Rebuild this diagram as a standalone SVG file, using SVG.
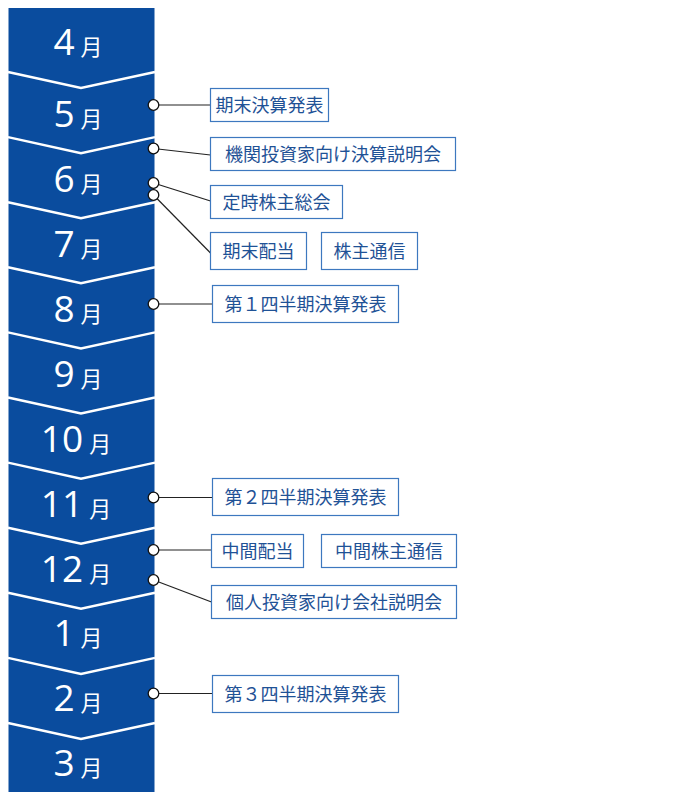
<svg xmlns="http://www.w3.org/2000/svg" width="691" height="797" viewBox="0 0 691 797">
<style>
.col{fill:#0a4c9e}
.sep{fill:none;stroke:#fff;stroke-width:2.5}
.mon{font-family:"Open Sans","Noto Sans","Liberation Sans",sans-serif;font-weight:400;font-size:37px;fill:#fff;text-anchor:middle}
.tsu{font-family:"Noto Sans CJK JP",sans-serif;font-weight:400;font-size:22px}
.box{fill:#fff;stroke:#3d78bf;stroke-width:1.2}
.lbl{font-family:"Noto Sans CJK JP",sans-serif;font-size:18px;fill:#1f5296;text-anchor:middle}
.dot{fill:#fff;stroke:#111;stroke-width:1.3}
.ln{stroke:#222;stroke-width:1.2;fill:none}
</style>
<g id="column">
<rect class="col" x="8.5" y="8" width="146" height="784"/>
<polyline class="sep" points="8,72 81,88 155,72"/>
<polyline class="sep" points="8,137.1 81,153.1 155,137.1"/>
<polyline class="sep" points="8,202.2 81,218.2 155,202.2"/>
<polyline class="sep" points="8,267.3 81,283.3 155,267.3"/>
<polyline class="sep" points="8,332.4 81,348.4 155,332.4"/>
<polyline class="sep" points="8,397.5 81,413.5 155,397.5"/>
<polyline class="sep" points="8,462.6 81,478.6 155,462.6"/>
<polyline class="sep" points="8,527.7 81,543.7 155,527.7"/>
<polyline class="sep" points="8,592.8 81,608.8 155,592.8"/>
<polyline class="sep" points="8,657.9 81,673.9 155,657.9"/>
<polyline class="sep" points="8,723 81,739 155,723"/>
<text class="mon" x="78" y="55">4<tspan class="tsu" dx="6">月</tspan></text>
<text class="mon" x="78" y="127">5<tspan class="tsu" dx="6">月</tspan></text>
<text class="mon" x="78" y="192">6<tspan class="tsu" dx="6">月</tspan></text>
<text class="mon" x="78" y="257">7<tspan class="tsu" dx="6">月</tspan></text>
<text class="mon" x="78" y="322">8<tspan class="tsu" dx="6">月</tspan></text>
<text class="mon" x="78" y="387">9<tspan class="tsu" dx="6">月</tspan></text>
<text class="mon" x="76" y="452">10<tspan class="tsu" dx="6">月</tspan></text>
<text class="mon" x="76" y="517">11<tspan class="tsu" dx="6">月</tspan></text>
<text class="mon" x="76" y="582">12<tspan class="tsu" dx="6">月</tspan></text>
<text class="mon" x="78" y="646">1<tspan class="tsu" dx="6">月</tspan></text>
<text class="mon" x="78" y="711">2<tspan class="tsu" dx="6">月</tspan></text>
<text class="mon" x="78" y="776">3<tspan class="tsu" dx="6">月</tspan></text>
</g>
<g id="connectors">
<line class="ln" x1="153.5" y1="105" x2="210.5" y2="105"/>
<line class="ln" x1="153.5" y1="148.5" x2="210.5" y2="155"/>
<line class="ln" x1="153.5" y1="183" x2="210.5" y2="201"/>
<line class="ln" x1="153.5" y1="195" x2="210.5" y2="253"/>
<line class="ln" x1="153.5" y1="304" x2="212.5" y2="304"/>
<line class="ln" x1="153.5" y1="497.5" x2="212.5" y2="497.5"/>
<line class="ln" x1="153.5" y1="550" x2="211.5" y2="550"/>
<line class="ln" x1="153.5" y1="580" x2="211.5" y2="602"/>
<line class="ln" x1="153.5" y1="693.5" x2="212.5" y2="693.5"/>
<circle class="dot" cx="153.5" cy="105" r="5.3"/>
<circle class="dot" cx="153.5" cy="148.5" r="5.3"/>
<circle class="dot" cx="153.5" cy="183" r="5.3"/>
<circle class="dot" cx="153.5" cy="195" r="5.3"/>
<circle class="dot" cx="153.5" cy="304" r="5.3"/>
<circle class="dot" cx="153.5" cy="497.5" r="5.3"/>
<circle class="dot" cx="153.5" cy="550" r="5.3"/>
<circle class="dot" cx="153.5" cy="580" r="5.3"/>
<circle class="dot" cx="153.5" cy="693.5" r="5.3"/>
</g>
<g id="n1"><rect class="box" x="210.5" y="88.5" width="118" height="33"/><text class="lbl" x="269.5" y="111.5">期末決算発表</text></g>
<g id="n2"><rect class="box" x="210.5" y="137.5" width="245" height="33"/><text class="lbl" x="333" y="160.5">機関投資家向け決算説明会</text></g>
<g id="n3"><rect class="box" x="210.5" y="185.5" width="132" height="33"/><text class="lbl" x="276.5" y="208.5">定時株主総会</text></g>
<g id="n4"><rect class="box" x="210.5" y="232.5" width="96" height="37"/><text class="lbl" x="258.5" y="257.5">期末配当</text></g>
<g id="n5"><rect class="box" x="321.5" y="232.5" width="96" height="37"/><text class="lbl" x="369.5" y="257.5">株主通信</text></g>
<g id="n6"><rect class="box" x="212.5" y="285.5" width="186" height="37"/><text class="lbl" x="305.5" y="310.5">第１四半期決算発表</text></g>
<g id="n7"><rect class="box" x="212.5" y="478.5" width="186" height="37"/><text class="lbl" x="305.5" y="503.5">第２四半期決算発表</text></g>
<g id="n8"><rect class="box" x="211.5" y="534.5" width="92" height="33"/><text class="lbl" x="257.5" y="557.5">中間配当</text></g>
<g id="n9"><rect class="box" x="321.5" y="534.5" width="135" height="33"/><text class="lbl" x="389" y="557.5">中間株主通信</text></g>
<g id="n10"><rect class="box" x="211.5" y="585.5" width="245" height="33"/><text class="lbl" x="334" y="608.5">個人投資家向け会社説明会</text></g>
<g id="n11"><rect class="box" x="212.5" y="675.5" width="186" height="37"/><text class="lbl" x="305.5" y="700.5">第３四半期決算発表</text></g>
</svg>
